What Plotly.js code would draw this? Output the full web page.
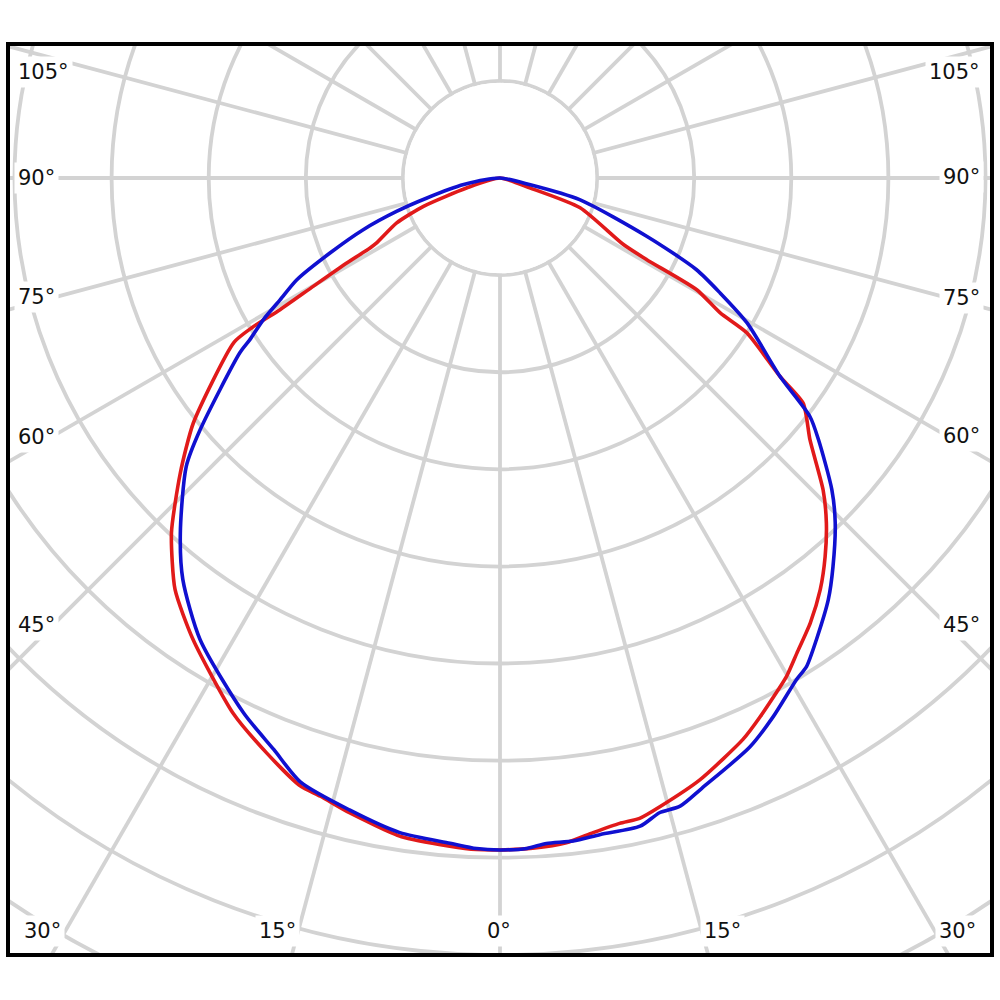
<!DOCTYPE html>
<html>
<head>
<meta charset="utf-8">
<script src="https://cdn.plot.ly/plotly-3.0.1.min.js"></script>
<style>
html,body{margin:0;padding:0;width:1000px;height:1000px;overflow:hidden;background:#fff;}
#frame{position:absolute;left:6px;top:42px;width:980px;height:907px;border:4px solid #000;overflow:hidden;background:#fff;}
#chart{position:absolute;left:-510px;top:-867.7px;width:2000px;height:2000px;}
</style>
</head>
<body>
<div id="frame"><div id="chart"></div></div>
<script>
// ---- data (angle in degrees from nadir, intensity in cd/klm-like units) ----
const redTheta = [-90,-73.3,-69.7,-66.5,-62.2,-61.7,-61.0,-59.9,-59.1,-58.9,-58.3,-51.4,-47.3,-42.8,-38.3,-33.6,-26.5,-22.1,-18.2,-16.2,-13.3,-8.5,-4.3,-2.0,0,
  2.8,5.7,8.1,10.5,12.3,14.3,18.4,23.4,25.8,29.9,32.0,34.9,37.9,40.65,43.4,46.0,49.8,53.4,54.7,57.9,58.5,60.4,60.9,61.7,69.6,71.6,90];
const redR = [0,18,42,58,72,76,90,111,132,149,161,202,224,249,270,285.5,308,319.5,329.5,331.5,336,343,345,346,346,
  345.5,344,340.5,338,337.5,334,326.5,315,308,296,288.5,279.3,268.5,257,244.6,231.3,209,194.5,176.5,150,133,116.5,86.5,72,44,16.5,0];

const blueTheta = [-90,-79.7,-74.7,-72.1,-69.3,-66.2,-63.4,-61.0,-59.1,-57.1,-56.1,-50.0,-47.4,-42.0,-38.3,-33.0,-25.6,-21.6,-18.3,-13.4,-8.7,-4.3,-2.0,0,
  2.3,4.0,6.3,8.7,12.2,14.1,16.0,18.3,23.7,26.9,30.6,32.1,34.4,37.9,40.6,44.2,46.8,50.6,52.4,54.7,59.6,62.4,65.0,68.3,74.8,77.4,90];
const blueR = [0,19,39,56,75.3,95.7,117,129.5,142,153.5,161.4,201.5,219.5,246,263.5,283.5,305.5,316.5,327.5,334.5,341,343.5,345.5,346,
  345.5,343.5,343.5,342,341.5,337,336.5,331,320,311,300,297,288.3,275.2,263.5,247.6,234.4,212.2,201.5,176.5,147.5,128,111.5,81.5,42.5,16,0];

const rings = [50,100,150,200,250,300,350,400,450,500];
const leftLabels = ['105°','90°','75°','60°','45°'];
const rightLabels = ['105°','90°','75°','60°','45°'];
const bottomLabels = ['30°','15°','0°','15°','30°'];

// ---- layout geometry (page pixels) ----
const W = 2000, H = 2000;
const plotLeft = -500, plotTop = 178.3 - 1000;   // page position of the big figure
const pxPerRing = 97.1;
const radialMax = rings[0] * (W / 2) / pxPerRing;
function px(x){ return (x - plotLeft) / W; }
function py(y){ return 1 - (y - plotTop) / H; }

const leftY = [72.5,178.3,297,437.5,625.7];
const rightY = [72,177.5,298,436.5,625.5];
const bottomX = [42,277.5,499,722.7,957];
const bottomY = 931;

const labelFont = {family:'DejaVu Sans, Verdana, sans-serif', size:21, color:'#111111'};
const annotations = [];
leftLabels.forEach((t,i)=>annotations.push({text:t, xref:'paper', yref:'paper', x:px(14), y:py(leftY[i]),
  xanchor:'left', yanchor:'middle', showarrow:false, bgcolor:'white', borderpad:3, font:labelFont}));
rightLabels.forEach((t,i)=>annotations.push({text:t, xref:'paper', yref:'paper', x:px(984), y:py(rightY[i]),
  xanchor:'right', yanchor:'middle', showarrow:false, bgcolor:'white', borderpad:3, font:labelFont}));
bottomLabels.forEach((t,i)=>annotations.push({text:t, xref:'paper', yref:'paper', x:px(bottomX[i]), y:py(bottomY),
  xanchor:'center', yanchor:'middle', showarrow:false, bgcolor:'white', borderpad:3, font:labelFont}));

const gridColor = '#d3d3d3';

const traces = [
  { type:'barpolar', r:[rings[0] - 0.9], theta:[0], width:[360], base:0,
    marker:{color:'white', line:{width:0}}, hoverinfo:'skip', showlegend:false },
  { type:'scatterpolar', mode:'lines', name:'C0-C180', r:redR, theta:redTheta,
    line:{color:'#e11a1a', width:3.6, shape:'spline', smoothing:0.6}, hoverinfo:'skip' },
  { type:'scatterpolar', mode:'lines', name:'C90-C270', r:blueR, theta:blueTheta,
    line:{color:'#1010d0', width:3.6, shape:'spline', smoothing:0.7}, hoverinfo:'skip' }
];

const layout = {
  width:W, height:H,
  margin:{l:0,r:0,t:0,b:0,pad:0},
  paper_bgcolor:'white',
  showlegend:false,
  polar:{
    domain:{x:[0,1], y:[0,1]},
    bgcolor:'white',
    hole:0,
    radialaxis:{range:[0, radialMax], tickmode:'array', tickvals:rings, showticklabels:false, ticks:'',
      showline:false, gridcolor:gridColor, gridwidth:3.8},
    angularaxis:{rotation:-90, direction:'counterclockwise', tickmode:'linear', tick0:0, dtick:15,
      showticklabels:false, ticks:'', showline:false, gridcolor:gridColor, gridwidth:3.8}
  },
  annotations:annotations
};

Plotly.newPlot('chart', traces, layout, {displayModeBar:false, staticPlot:true});
</script>
</body>
</html>
